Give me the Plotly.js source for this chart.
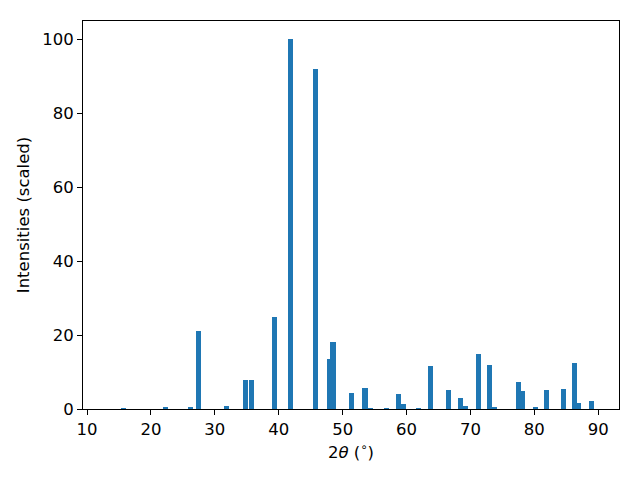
<!DOCTYPE html>
<html><head><meta charset="utf-8">
<script src="https://cdn.plot.ly/plotly-3.0.1.min.js"></script>
<style>body{margin:0;}#c{width:640px;height:480px;}</style>
</head><body><div id="c"></div>
<script>
const twoTheta = [15.7, 22.3, 26.2, 27.4, 31.8, 34.8, 35.7, 39.3, 41.8, 45.7, 47.9, 48.5, 51.4, 53.5, 54.3, 56.9, 58.7, 59.5, 61.9, 63.7, 66.6, 68.5, 69.2, 71.3, 73.0, 73.7, 77.5, 78.2, 80.2, 81.9, 84.6, 86.3, 86.9, 89.0];
const intensity = [0.3, 0.5, 0.5, 21.1, 0.8, 7.9, 7.9, 25.0, 100, 92, 13.5, 18.0, 4.3, 5.7, 0.3, 0.3, 4.1, 1.4, 0.3, 11.6, 5.1, 3.0, 0.8, 14.9, 11.9, 0.6, 7.3, 4.9, 0.6, 5.1, 5.4, 12.5, 1.6, 2.2];
const xTicks = [10, 20, 30, 40, 50, 60, 70, 80, 90];
const yTicks = [0, 20, 40, 60, 80, 100];

const font = {family: 'DejaVu Sans', size: 16.5, color: '#000'};
Plotly.newPlot('c', [{
  type: 'bar', x: twoTheta, y: intensity, width: 0.8,
  marker: {color: '#1f77b4', line: {width: 0}}
}], {
  width: 640, height: 480,
  margin: {l: 83, r: 21, t: 21, b: 71},
  paper_bgcolor: '#fff', plot_bgcolor: '#fff',
  font: font, showlegend: false, bargap: 0,
  xaxis: {range: [9.37, 93.25], tickvals: xTicks, ticktext: xTicks.map(String),
    ticks: 'outside', ticklen: 5, tickcolor: '#000', showline: true, linecolor: '#000', mirror: true,
    showgrid: false, zeroline: false, tickfont: font,
    title: {text: '2<i>θ</i> (<sup>∘</sup>)', font: font, standoff: 8}},
  yaxis: {range: [0, 105], tickvals: yTicks, ticktext: yTicks.map(String),
    ticks: 'outside', ticklen: 5, tickcolor: '#000', showline: true, linecolor: '#000', mirror: true,
    showgrid: false, zeroline: false, tickfont: font,
    title: {text: 'Intensities (scaled)', font: font, standoff: 8}}
}, {staticPlot: true});
</script></body></html>
